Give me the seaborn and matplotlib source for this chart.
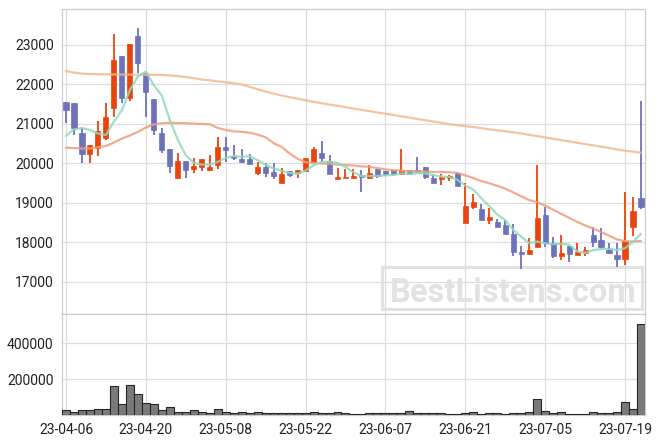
import seaborn as sns
import matplotlib.pyplot as plt
import matplotlib.patches as mpatches
import pandas as pd
import numpy as np

# --- daily prices ---
opens = [21550, 21520, 20760, 20235, 20380, 20640, 21390, 22710, 21650, 23210,
         22290, 21620, 20760, 20350, 19630, 20050, 19850, 19905, 19830, 19960,
         20400, 20160, 20100, 20100, 19750, 19900, 19770, 19500, 19800, 19755,
         19800, 20025, 20250, 20050, 19605, 19610, 19630, 19670, 19620, 19840,
         19810, 19820, 19730, 19820, 19830, 19890, 19620, 19605, 19630, 19750,
         18490, 18900, 18850, 18560, 18510, 18430, 18200, 17750, 17700, 17880,
         18685, 17970, 17660, 17900, 17670, 17720, 18180, 18050, 17800, 17670,
         17580, 18390, 19115]
highs = [21550, 21520, 20880, 20460, 21070, 21510, 23260, 22710, 23010, 23420,
         22290, 21620, 20900, 20350, 20245, 20050, 20140, 20100, 20200, 20650,
         20650, 20450, 20350, 20235, 20030, 19990, 20010, 19880, 19800, 19820,
         20140, 20400, 20550, 20200, 19865, 19840, 19850, 19820, 19950, 19840,
         19810, 19820, 20350, 19820, 20160, 19890, 19730, 19730, 19700, 19780,
         19500, 19220, 18970, 18870, 18580, 18560, 18470, 17900, 18110, 19940,
         18880, 18120, 18180, 17900, 17970, 17880, 18380, 18350, 17970, 17970,
         19270, 19130, 21575]
lows = [21010, 20700, 19990, 19990, 20185, 20580, 21170, 21510, 21570, 22270,
        21160, 20710, 20245, 19740, 19590, 19610, 19740, 19800, 19800, 19840,
        20025, 20075, 19990, 19980, 19710, 19650, 19600, 19490, 19650, 19620,
        19780, 20025, 20030, 19730, 19590, 19610, 19630, 19275, 19600, 19610,
        19680, 19680, 19710, 19700, 19770, 19600, 19500, 19435, 19540, 19430,
        18490, 18850, 18560, 18450, 18390, 18200, 17640, 17310, 17700, 17880,
        17880, 17610, 17540, 17490, 17670, 17640, 17870, 17820, 17700, 17360,
        17430, 18150, 18830]
closes = [21350, 20890, 20235, 20455, 20810, 21160, 22600, 21650, 23010, 22540,
          21800, 20850, 20340, 19915, 20050, 19830, 19920, 20100, 19900, 20400,
          20340, 20135, 20025, 19980, 19900, 19755, 19670, 19720, 19700, 19820,
          20140, 20350, 20130, 19730, 19650, 19650, 19660, 19650, 19750, 19670,
          19715, 19715, 19820, 19720, 19770, 19660, 19500, 19650, 19650, 19430,
          18910, 19010, 18560, 18640, 18390, 18200, 17760, 17700, 17800, 18610,
          17970, 17660, 17730, 17700, 17750, 17790, 18000, 17880, 17735, 17580,
          18030, 18790, 18900]
volumes = [28000, 15000, 28000, 28000, 33000, 33000, 161000, 61000, 167000, 115000,
           65000, 61000, 28000, 43000, 15000, 15000, 28000, 15000, 9000, 33000,
           15000, 9000, 15000, 9000, 15000, 9000, 9000, 9000, 9000, 9000,
           9000, 15000, 9000, 9000, 15000, 9000, 4000, 4000, 9000, 9000,
           9000, 9000, 9000, 20000, 9000, 9000, 9000, 9000, 4000, 4000,
           9000, 15000, 4000, 9000, 9000, 4000, 9000, 9000, 15000, 89000,
           22000, 9000, 15000, 4000, 4000, 4000, 15000, 9000, 9000, 15000,
           70000, 33000, 510000]

# moving averages: start values (need earlier history)
ma5_head = [20690, 20850, 20890, 20835]
ma20_head = [20390, 20380, 20370, 20370, 20400, 20430, 20520, 20620, 20700, 20790,
             20900, 20980, 21010, 21020, 21015, 21010, 21000, 20990, 20985]
ma_long = [22330, 22290, 22265, 22255, 22250, 22248, 22245, 22242, 22240, 22238,
           22236, 22234, 22230, 22220, 22200, 22180, 22150, 22115, 22095, 22070,
           22045, 22020, 21990, 21930, 21870, 21810, 21760, 21710, 21670, 21630,
           21590, 21550, 21515, 21480, 21450, 21415, 21380, 21350, 21315, 21280,
           21250, 21215, 21185, 21150, 21115, 21085, 21050, 21020, 20985, 20960,
           20935, 20910, 20885, 20855, 20830, 20805, 20780, 20750, 20715, 20685,
           20650, 20615, 20580, 20550, 20515, 20480, 20450, 20415, 20380, 20345,
           20315, 20290, 20265]

tick_labels = ["23-04-06", "23-04-20", "23-05-08", "23-05-22",
               "23-06-07", "23-06-21", "23-07-05", "23-07-19"]

df = pd.DataFrame({"open": opens, "high": highs, "low": lows,
                   "close": closes, "volume": volumes, "ma_long": ma_long})
df["idx"] = np.arange(len(df))
df["ma5"] = df["close"].rolling(5).mean()
df.loc[:3, "ma5"] = ma5_head
df["ma20"] = df["close"].rolling(20).mean()
df.loc[:18, "ma20"] = ma20_head

UP = "#E8450E"
DOWN = "#6E72B6"

sns.set_theme(style="whitegrid")
plt.rcParams['font.family'] = ['Roboto', 'DejaVu Sans']

fig = plt.figure(figsize=(6.63, 4.44), dpi=100)
ax = fig.add_axes([0.0935, 0.2928, 0.8793, 0.6869])
axv = fig.add_axes([0.0935, 0.0653, 0.8793, 0.2275])

# candles
up = df["close"] >= df["open"]
colors = np.where(up, UP, DOWN)
body_lo = df[["open", "close"]].min(axis=1)
body_h = (df["close"] - df["open"]).abs().clip(lower=40)
ax.vlines(df["idx"], df["low"], df["high"], colors=colors, lw=1.3, zorder=3)
ax.bar(df["idx"], body_h, bottom=body_lo, width=0.64, color=colors,
       edgecolor=colors, linewidth=0.5, zorder=4)

# moving averages
sns.lineplot(data=df, x="idx", y="ma_long", ax=ax, color="#F2B98E", lw=1.6, alpha=0.85, zorder=5)
sns.lineplot(data=df, x="idx", y="ma20", ax=ax, color="#EE9E7E", lw=1.6, alpha=0.85, zorder=5)
sns.lineplot(data=df, x="idx", y="ma5", ax=ax, color="#8EDABC", lw=1.6, alpha=0.85, zorder=5)

# volume
sns.barplot(data=df, x="idx", y="volume", ax=axv, native_scale=True, color="#7A7A7A",
            saturation=1, edgecolor="#262626", linewidth=0.8, width=1.0, zorder=3)

xt = list(range(0, len(df), 10))
for a in (ax, axv):
    a.set_xlim(-0.5, len(df) - 0.5)
    a.set_xticks(xt)
    a.set_xlabel("")
    a.set_ylabel("")
    a.grid(True, color="#DDDDDD", lw=0.9)
    a.set_axisbelow(True)
    a.tick_params(labelsize=10, labelcolor="#222222", length=3, color="#CCCCCC", pad=3)
    for s in a.spines.values():
        s.set_color("#CCCCCC")
        s.set_linewidth(0.9)

ax.set_ylim(16180, 23900)
ax.set_yticks(range(17000, 24000, 1000))
ax.set_xticklabels([])
axv.set_ylim(0, 563000)
axv.set_yticks([200000, 400000])
axv.set_yticklabels(["200000", "400000"])
axv.set_xticklabels(tick_labels)

# watermark
ax.add_patch(mpatches.Rectangle((382 / 663, 1 - 309 / 444), 260 / 663, 42 / 444,
                                transform=fig.transFigure, fill=False, ec="#E2E2E2",
                                lw=2.2, zorder=1, clip_on=False))
ax.text(513 / 663, 1 - 302 / 444, "BestListens.com", transform=fig.transFigure,
        ha="center", va="baseline", fontsize=23.5, fontweight="bold",
        color="#E2E2E2", zorder=1)

fig.savefig("out.png", dpi=100)
